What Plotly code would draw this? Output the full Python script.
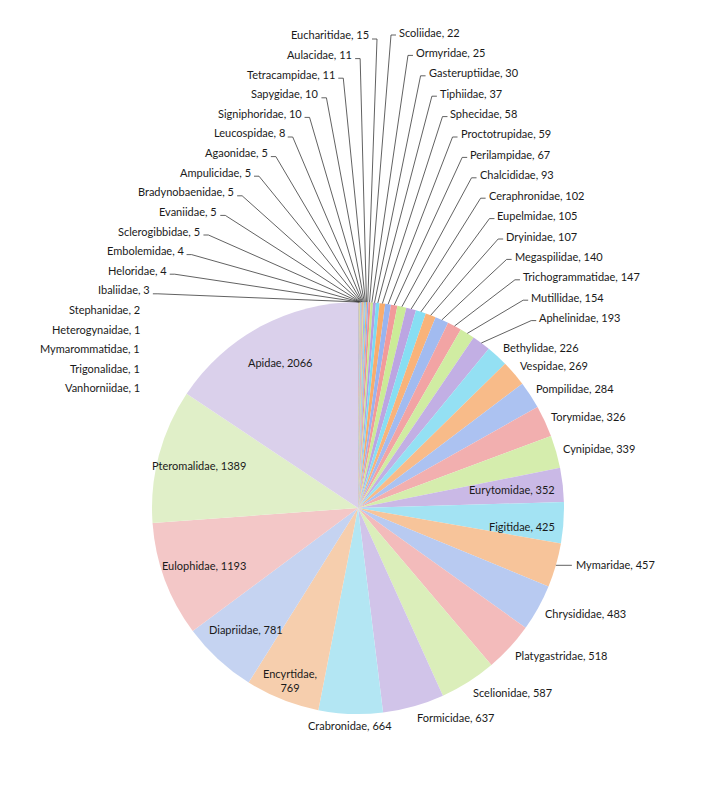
import math
import plotly.graph_objects as go

# ---------------- data ----------------
families = [
    "Vanhorniidae", "Trigonalidae", "Mymarommatidae", "Heterogynaidae", "Stephanidae",
    "Ibaliidae", "Heloridae", "Embolemidae", "Sclerogibbidae", "Evaniidae",
    "Bradynobaenidae", "Ampulicidae", "Agaonidae", "Leucospidae", "Signiphoridae",
    "Sapygidae", "Tetracampidae", "Aulacidae", "Eucharitidae", "Scoliidae",
    "Ormyridae", "Gasteruptiidae", "Tiphiidae", "Sphecidae", "Proctotrupidae",
    "Perilampidae", "Chalcididae", "Ceraphronidae", "Eupelmidae", "Dryinidae",
    "Megaspilidae", "Trichogrammatidae", "Mutillidae", "Aphelinidae", "Bethylidae",
    "Vespidae", "Pompilidae", "Torymidae", "Cynipidae", "Eurytomidae",
    "Figitidae", "Mymaridae", "Chrysididae", "Platygastridae", "Scelionidae",
    "Formicidae", "Crabronidae", "Encyrtidae", "Diapriidae", "Eulophidae",
    "Pteromalidae", "Apidae",
]
counts = [
    1, 1, 1, 1, 2,
    3, 4, 4, 5, 5,
    5, 5, 5, 8, 10,
    10, 11, 11, 15, 22,
    25, 30, 37, 58, 59,
    67, 93, 102, 105, 107,
    140, 147, 154, 193, 226,
    269, 284, 326, 339, 352,
    425, 457, 483, 518, 587,
    637, 664, 769, 781, 1193,
    1389, 2066,
]

# ---------------- layout constants ----------------
W, H = 711, 788          # window size
OFF = 8                  # page body margin (plot div starts at 8,8)
CX, CY, R = 358, 508, 206
FONT = dict(family="Lato, 'Open Sans', sans-serif", size=11, color="#1a1a1a")
LINE = dict(color="#3a3a3a", width=0.8)

accent = ["#7fa3ef", "#f28080", "#bfe87a", "#a98bdc", "#5fd6f3", "#fb9a4a"]


def mix(hexc, t, target=(243, 243, 243)):
    r, g, b = int(hexc[1:3], 16), int(hexc[3:5], 16), int(hexc[5:7], 16)
    r = round(r + (target[0] - r) * t)
    g = round(g + (target[1] - g) * t)
    b = round(b + (target[2] - b) * t)
    return f"#{r:02x}{g:02x}{b:02x}"


n = len(counts)
colors = [mix(accent[i % 6], 0.66 * (i / (n - 1)) ** 1.5) for i in range(n)]

FW, FH = W - OFF, H - OFF


def px(x):
    return (x - OFF) / FW


def py(y):
    return 1 - (y - OFF) / FH


total = sum(counts)
mids = []
acc = 0
for v in counts:
    mids.append((acc + v / 2) / total * 2 * math.pi)
    acc += v


def edge(i, rr):
    a = mids[i]
    return CX + rr * math.sin(a), CY - rr * math.cos(a)


fig = go.Figure(
    go.Pie(
        labels=families,
        values=counts,
        sort=False,
        direction="clockwise",
        rotation=0,
        marker=dict(colors=colors, line=dict(width=0)),
        textinfo="none",
        hoverinfo="label+value",
        showlegend=False,
        domain=dict(x=[px(CX - R), px(CX + R)], y=[py(CY + R), py(CY - R)]),
    )
)

annotations = []
shapes = []


def add_text(text, x, y, xanchor, yanchor="middle", align="left"):
    annotations.append(dict(
        text=text, x=px(x), y=py(y), xref="paper", yref="paper",
        xanchor=xanchor, yanchor=yanchor, showarrow=False, font=FONT, align=align,
    ))


def add_line(x0, y0, x1, y1):
    shapes.append(dict(type="line", xref="paper", yref="paper",
                       x0=px(x0), y0=py(y0), x1=px(x1), y1=py(y1), line=LINE))


# label groups (by rank of slice)
STACK_LEFT = range(0, 19)
STACK_RIGHT = range(19, 34)
INSIDE_END = (39, 40)
LEADER_SHORT = (41,)
INSIDE = range(47, 52)

for i, (name, v) in enumerate(zip(families, counts)):
    label = f"{name}, {v}"
    a = mids[i]
    if i in STACK_LEFT:
        y = 35 + 19.6 * (18 - i)
        if i >= 5:
            xe = 371 - 0.86 * (y - 35)
            add_text(label, xe, y, "right")
            ex, ey = edge(i, R)
            add_line(xe + 1, y + 4, xe + 6, y + 4)
            add_line(xe + 6, y + 4, ex, ey)
        else:
            add_text(label, 142, y, "right")
    elif i in STACK_RIGHT:
        y = 32 + 20.4 * (i - 19)
        xs = 397 + 140 * ((y - 32) / 285) ** 0.8
        add_text(label, xs, y, "left")
        ex, ey = edge(i, R)
        add_line(xs - 1, y + 3, xs - 6, y + 3)
        add_line(xs - 6, y + 3, ex, ey)
    elif i in INSIDE_END:
        x, y = edge(i, R - 6)
        add_text(label, x, y + 4, "right")
    elif i in LEADER_SHORT:
        ex, ey = edge(i, R)
        add_line(ex, ey, ex + 16, ey)
        add_text(label, ex + 18, ey - 1, "left")
    elif i in INSIDE:
        if name == "Encyrtidae":
            x, y = edge(i, 0.9 * R)
            add_text(f"{name},<br>{v}", x, y, "center", align="center")
        else:
            x, y = edge(i, 0.8 * R)
            add_text(label, x, y, "center")
    else:
        x, y = edge(i, R + 5)
        s = math.sin(a)
        xa = "left" if s > 0.25 else ("right" if s < -0.25 else "center")
        add_text(label, x, y - 7 * math.cos(a), xa)

fig.update_layout(
    width=FW, height=FH,
    margin=dict(l=0, r=0, t=0, b=0),
    paper_bgcolor="white", plot_bgcolor="white",
    annotations=annotations, shapes=shapes,
    showlegend=False,
)

fig.write_html("out.html")
